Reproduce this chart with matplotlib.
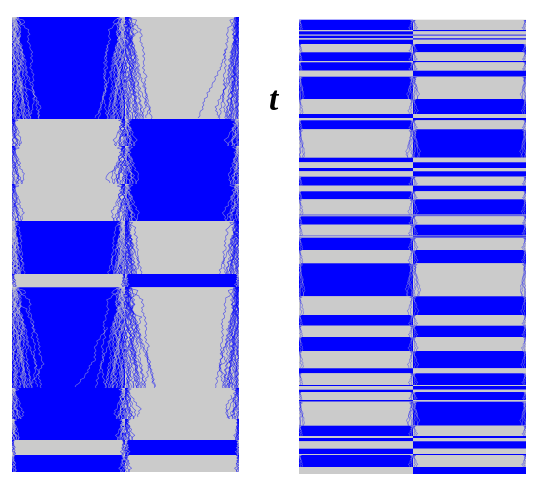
import matplotlib
matplotlib.use("Agg")
import matplotlib.pyplot as plt
from matplotlib.collections import LineCollection
from matplotlib.patches import Rectangle

BLUE = "#0000ff"
GRAY = "#cbcbcb"

# Panel geometry, in picture rows / columns
left_x = (12, 125, 239)
right_x = (299, 413, 526)

# Band edges down each panel; left half starts blue, colours alternate
left_edges = [18, 120, 222, 275, 288.3, 441, 456, 473]
right_edges = [20.7, 31, 32.3, 35.7, 36.7, 39.3, 40.7, 45, 53.3, 62, 63.3, 71.7,
               77.7, 100, 115, 119, 121.3, 130.3, 158.7, 163.3, 169, 172.3, 177.7,
               186.7, 192.3, 200.3, 215.7, 216.5, 217.3, 225.7, 236.7, 237.3, 238.7,
               251, 264.3, 297.3, 316, 326.7, 338, 352, 369.3, 374.3, 386, 387,
               390.7, 393, 401, 402.7, 426.7, 437, 439, 442.3, 449.7, 455, 456,
               468, 475]

# Sections of the left panel where the wandering traces restart:
# top, bottom, centre spread, left-wall spread, right-wall spread
left_sections = [
    (18, 120, 27, 28, 20),
    (120, 147, 14, 12, 17),
    (147, 185, 17, 15, 13),
    (185, 222, 17, 14, 20),
    (222, 275, 17, 13, 20),
    (275, 288.3, 4, 5, 4),
    (288.3, 389, 30, 30, 24),
    (389, 420, 13, 14, 15),
    (420, 441, 11, 9, 5),
    (441, 456, 5, 4, 3),
    (456, 473, 7, 5, 4),
]

# Wander shapes, as offsets in percent of a section's spread, top to bottom
wander = [
    [0, 7, 23, 40, 43, 27, 17, 17, 23, 30, 37, 47, 50, 57, 70, 80, 73, 63],
    [-7, -13, -20, -23, -27, -43, -57, -60, -57, -63, -70, -70, -67, -77, -73, -80, -90, -97],
    [-17, -10, 3, 0, -13, -20, -17, -10, 0, 7, 0, -7, 7, 13, 27, 33, 40, 47],
    [3, -3, -10, 0, 7, 10, 0, -10, -20, -27, -33, -40, -27, -17, -23, -33, -47, -53],
    [10, 17, 7, 0, 10, 20, 13, 3, 10, 20, 30, 23, 17, 23, 37, 50, 57, 67],
    [-10, -20, -27, -17, -7, -13, -23, -30, -20, -10, -17, -27, -37, -43, -33, -23, -13, -20],
    [-3, 3, 13, 7, -3, -10, 0, 10, 3, -7, 3, 13, 23, 13, 3, 10, 20, 30],
    [0, -7, -13, -7, 3, -3, -13, -7, 3, -3, -13, -3, 7, -3, -13, -23, -30, -40],
    [4, 9, 4, 12, 18, 14, 9, 16, 24, 18, 26, 34, 28, 22, 30, 38, 32, 26],
    [-5, -2, -9, -14, -8, -15, -20, -12, -6, -13, -20, -14, -22, -29, -21, -15, -8, -14],
    [2, 6, 11, 6, 13, 8, 3, 9, 15, 10, 4, 11, 18, 24, 17, 11, 6, 12],
    [-3, -8, -3, -9, -14, -10, -5, -10, -16, -24, -18, -11, -17, -10, -4, -9, -15, -8],
    [6, 1, 8, 14, 20, 15, 22, 29, 24, 32, 39, 33, 41, 36, 30, 38, 45, 40],
    [-2, 4, -3, 2, -5, -11, -7, -13, -18, -12, -19, -25, -31, -26, -34, -40, -35, -42],
    [1, -4, 2, 7, 1, 5, -1, 3, 9, 4, -2, -8, -3, 3, -4, 2, 8, 3],
    [5, 11, 16, 21, 28, 24, 31, 26, 20, 27, 34, 40, 46, 52, 47, 54, 60, 56],
]

# Pixel-scale jitter that gives the traces their grainy step
jitter = [0.0, 1.1, -0.7, 0.9, -1.2, 0.6, 1.3, -0.9, 0.4, -1.1, 0.8, -0.4, 1.2, -0.8, -0.2, 1.0, -1.3, 0.5, 0.7, -0.6]

# Lone traces that stray far from the rest: (column, row) pairs
stray_traces = [
    [(125, 20), (131, 25), (137, 33), (132, 40), (128, 46), (131, 62), (136, 80), (142, 95), (149, 110), (146, 119)],
    [(108, 46), (105, 60), (104, 75), (107, 88), (102, 102), (100, 110), (95, 119)],
    [(18, 85), (25, 88), (33, 93), (40, 107), (38, 119)],
    [(226, 50), (222, 65), (217, 76), (210, 90), (205, 100), (202, 110), (198, 119)],
    [(235, 70), (228, 85), (222, 95), (216, 108), (218, 119)],
    [(118, 165), (114, 170), (105, 178), (110, 184)],
    [(122, 160), (115, 172), (118, 184)],
    [(108, 328), (99, 340), (95, 348), (95, 360), (90, 367), (85, 377), (75, 388)],
    [(128, 305), (134, 315), (141, 318), (137, 330), (143, 345), (150, 365), (155, 388)],
    [(232, 340), (225, 345), (222, 355), (226, 362), (219, 368), (228, 382), (235, 388)],
    [(18, 305), (26, 310), (32, 325), (38, 340), (40, 355), (43, 365), (35, 380), (37, 388)],
    [(128, 392), (133, 400), (140, 410), (138, 418)],
    [(232, 396), (226, 408), (227, 419)],
]

t_label = "t"
t_pos = (273.5, 101)


def band_is_blue(edges, y):
    for i in range(len(edges) - 1):
        if edges[i] <= y < edges[i + 1]:
            return i % 2 == 0
    return False


def grainy(points, k, amp):
    """Break a trace into short steps and shake each step sideways."""
    out = []
    for j in range(len(points) - 1):
        (xa, ya), (xb, yb) = points[j], points[j + 1]
        steps = max(1, int(round((yb - ya) / 2.0)))
        for m in range(steps):
            f = m / steps
            out.append((xa + (xb - xa) * f + amp * jitter[(k * 7 + len(out)) % len(jitter)],
                        ya + (yb - ya) * f))
    out.append(points[-1])
    return out


def section_traces(sec, xs, stride, amp):
    y0, y1, wc, wl, wr = sec
    x0, xm, x1 = xs
    n = len(wander[0]) - 1
    rows = [y0 + (y1 - y0) * (i / n) ** 2 for i in range(n + 1)]
    out = []
    for shape in wander[::stride]:
        for sign in (1, -1):
            out.append([(xm + sign * s * wc / 100, r) for s, r in zip(shape, rows)])
        out.append([(x0 + abs(s) * wl / 100, r) for s, r in zip(shape, rows)])
        out.append([(x1 - abs(s) * wr / 100, r) for s, r in zip(shape, rows)])
    return [grainy(t, k, amp) for k, t in enumerate(out)]


def draw_panel(ax, xs, edges, sections, extra, strides, amp, alpha):
    x0, xm, x1 = xs
    ax.barh(edges[0], x1 - x0, height=edges[-1] - edges[0], left=x0, align="edge",
            color=GRAY, linewidth=0, zorder=0.5)
    for i in range(len(edges) - 1):
        top, h = edges[i], edges[i + 1] - edges[i]
        first, second = (BLUE, GRAY) if i % 2 == 0 else (GRAY, BLUE)
        for bars in (ax.barh(top, xm - x0, height=h, left=x0, align="edge", color=first, linewidth=0, zorder=1),
                     ax.barh(top, x1 - xm, height=h, left=xm, align="edge", color=second, linewidth=0, zorder=1)):
            for bar in bars:
                bar.set_snap(False)
    for sec in sections:
        y0, y1 = sec[:2]
        h = y1 - y0
        stride = strides[0] if h < 20 else strides[1] if h < 40 else strides[2]
        traces = section_traces(sec, xs, stride, amp)
        traces += [grainy(t, k, amp) for k, t in enumerate(extra) if y0 <= t[0][1] < y1]
        blue_left = band_is_blue(edges, (y0 + y1) / 2)
        cells = [(x0, xm, GRAY if blue_left else BLUE), (xm, x1, BLUE if blue_left else GRAY)]
        for a, b, col in cells:
            lc = LineCollection(traces, colors=col, linewidths=0.45, alpha=alpha, zorder=2)
            ax.add_collection(lc)
            lc.set_clip_path(Rectangle((a, y0), b - a, y1 - y0, transform=ax.transData))


right_sections = []
for top, bot in zip(right_edges[:-1], right_edges[1:]):
    h = bot - top
    if h >= 8:
        right_sections.append((top, bot, min(9, 3 + 0.2 * h), min(7, 2 + 0.2 * h), min(7, 2 + 0.2 * h)))

fig = plt.figure(figsize=(5.46, 4.81), dpi=100, facecolor="white")
ax = fig.add_axes([0, 0, 1, 1])
ax.set_xlim(0, 546)
ax.set_ylim(481, 0)
ax.axis("off")

draw_panel(ax, left_x, left_edges, left_sections, stray_traces, (6, 2, 1), 1.0, 0.6)
draw_panel(ax, right_x, right_edges, right_sections, [], (8, 5, 4), 0.6, 0.45)

ax.text(t_pos[0], t_pos[1], t_label, family="Liberation Serif", style="italic", weight="bold",
        fontsize=24, color="black", ha="center", va="center")

fig.savefig("out.png", dpi=100)
